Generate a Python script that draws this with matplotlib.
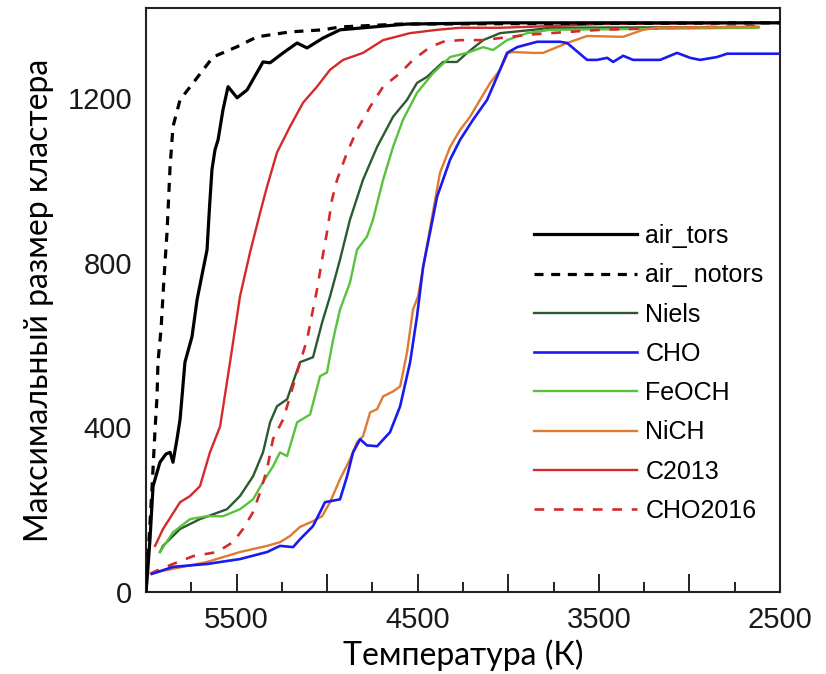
import matplotlib
matplotlib.use("Agg")
import matplotlib.pyplot as plt
from matplotlib.ticker import MultipleLocator, FuncFormatter

plt.rcParams['lines.scale_dashes'] = False

# ---- data (Temperature K, max cluster size) ----
air_tors_T = [6000, 5994, 5978, 5961, 5923, 5890, 5867, 5851, 5829, 5812, 5801, 5785, 5746, 5718,
              5663, 5650, 5636, 5619, 5602, 5575, 5547, 5497, 5442, 5354, 5315, 5243, 5166, 5111,
              5023, 4929, 4746, 4559, 4045, 2500]
air_tors_N = [2, 31, 128, 257, 315, 335, 339, 315, 371, 419, 475, 558, 620, 710,
              831, 930, 1025, 1074, 1098, 1171, 1227, 1200, 1219, 1287, 1285, 1309, 1333, 1321,
              1345, 1365, 1372, 1379, 1382, 1382]

air_notors_T = [6000, 5967, 5950, 5939, 5934, 5917, 5901, 5884, 5867, 5851, 5812, 5740, 5630,
                5497, 5387, 5205, 5023, 4929, 4597, 2500]
air_notors_N = [2, 250, 395, 475, 558, 638, 759, 873, 1033, 1130, 1195, 1236, 1299,
                1324, 1348, 1360, 1365, 1372, 1379, 1382]

niels_T = [5923, 5906, 5812, 5702, 5553, 5481, 5409, 5354, 5315, 5277, 5221, 5150, 5078, 5028,
           4984, 4929, 4874, 4802, 4724, 4636, 4559, 4504, 4448, 4360, 4283, 4227, 4139, 4045,
           3863, 3769, 2620]
niels_N = [97, 112, 153, 177, 201, 233, 281, 339, 412, 451, 468, 558, 570, 654,
           718, 807, 904, 1001, 1081, 1154, 1195, 1236, 1251, 1287, 1287, 1309, 1340, 1357,
           1365, 1370, 1372]

cho_T = [5967, 5851, 5663, 5481, 5332, 5260, 5188, 5150, 5078, 5039, 5012, 4929, 4890, 4857,
         4818, 4780, 4724, 4653, 4597, 4542, 4504, 4470, 4432, 4393, 4321, 4266, 4194, 4117,
         4062, 4007, 3951, 3841, 3714, 3675, 3565, 3510, 3454, 3421, 3366, 3311, 3162, 3068,
         2996, 2941, 2847, 2792, 2500]
cho_N = [44, 61, 68, 80, 97, 112, 109, 128, 160, 194, 218, 225, 281, 339,
         371, 356, 354, 388, 451, 558, 669, 790, 873, 960, 1050, 1098, 1147, 1195,
         1251, 1309, 1323, 1336, 1336, 1333, 1292, 1292, 1297, 1287, 1302, 1292, 1292, 1309,
         1297, 1292, 1299, 1307, 1307]

feoch_T = [5923, 5851, 5757, 5663, 5575, 5481, 5409, 5354, 5299, 5260, 5221, 5166, 5094, 5039,
           5001, 4967, 4929, 4874, 4835, 4780, 4747, 4691, 4636, 4581, 4504, 4415, 4321, 4227,
           4139, 4084, 4007, 3896, 3769, 2620]
feoch_N = [97, 145, 177, 184, 184, 201, 225, 267, 305, 339, 330, 412, 431, 524,
           533, 613, 686, 751, 831, 863, 904, 1001, 1081, 1147, 1212, 1260, 1299, 1309,
           1323, 1316, 1340, 1357, 1365, 1370]

nich_T = [5967, 5663, 5481, 5332, 5260, 5205, 5150, 5078, 5028, 4984, 4929, 4874, 4835, 4802,
          4763, 4724, 4691, 4636, 4597, 4559, 4526, 4498, 4443, 4377, 4321, 4266, 4211, 4156,
          4100, 4045, 4001, 3973, 3863, 3808, 3675, 3565, 3366, 3256, 3178, 2620]
nich_N = [46, 73, 97, 112, 121, 136, 158, 172, 184, 218, 274, 322, 364, 378,
          436, 444, 475, 487, 499, 582, 686, 718, 856, 1018, 1081, 1122, 1154, 1195,
          1236, 1268, 1309, 1311, 1309, 1309, 1333, 1350, 1348, 1365, 1370, 1372]

c2013_T = [5950, 5906, 5812, 5757, 5702, 5647, 5591, 5536, 5481, 5426, 5370, 5332, 5277, 5205,
           5133, 5056, 4984, 4912, 4802, 4691, 4542, 4393, 4266, 4045, 3769, 3493, 2500]
c2013_N = [112, 153, 218, 233, 257, 339, 402, 558, 718, 824, 921, 984, 1067, 1130,
           1188, 1227, 1268, 1292, 1309, 1340, 1357, 1365, 1370, 1370, 1374, 1379, 1382]

cho2016_T = [5978, 5961, 5851, 5740, 5608, 5520, 5464, 5409, 5370, 5332, 5299, 5243, 5221, 5166,
             5111, 5078, 5056, 5028, 5001, 4973, 4945, 4890, 4835, 4763, 4691, 4597, 4526, 4432,
             4360, 4266, 4139, 3896, 3769, 3493, 3123, 2620]
cho2016_N = [44, 48, 68, 87, 97, 121, 153, 194, 242, 298, 371, 419, 451, 533,
             613, 686, 734, 807, 873, 953, 1001, 1067, 1122, 1178, 1227, 1260, 1292, 1323,
             1336, 1340, 1340, 1353, 1357, 1365, 1370, 1374]

x_tick_labels = [5500, 4500, 3500, 2500]
y_tick_values = [0, 400, 800, 1200]

# ---- figure ----
fig = plt.figure(figsize=(8.26, 6.74), dpi=100)
ax = fig.add_axes([146/826, 1-592/674, 634/826, 584/674])

ax.plot(air_tors_T, air_tors_N, color='black', lw=2.3, label='air_tors', zorder=5)
ax.plot(air_notors_T, air_notors_N, color='black', lw=2.3, ls=(0, (6.5, 5.5)), label='air_ notors', zorder=5)
ax.plot(niels_T, niels_N, color='#2b5a2e', lw=1.7, label='Niels')
ax.plot(cho_T, cho_N, color='#1a1aee', lw=1.9, label='CHO', zorder=4)
ax.plot(feoch_T, feoch_N, color='#58c23c', lw=1.7, label='FeOCH')
ax.plot(nich_T, nich_N, color='#df7a32', lw=1.7, label='NiCH', zorder=3)
ax.plot(c2013_T, c2013_N, color='#d42a2a', lw=1.7, label='C2013')
ax.plot(cho2016_T, cho2016_N, color='#d42a2a', lw=1.9, ls=(0, (7, 7)), label='CHO2016')

ax.set_xlim(6000, 2500)
ax.set_ylim(0, 1418)

ax.xaxis.set_major_locator(MultipleLocator(500))
ax.xaxis.set_minor_locator(MultipleLocator(250))
ax.xaxis.set_major_formatter(FuncFormatter(
    lambda v, p: f"{int(round(v))}" if int(round(v)) in x_tick_labels else ""))
ax.set_yticks(y_tick_values)

ax.tick_params(axis='x', which='major', direction='in', length=13, width=1.4, pad=10,
               labelsize=21, colors='#222222', labelcolor='#1a1a1a')
ax.tick_params(axis='x', which='minor', direction='in', length=7, width=1.4, colors='#222222')
ax.tick_params(axis='y', length=0, pad=10, labelsize=21, labelcolor='#1a1a1a')
for lab in ax.get_xticklabels() + ax.get_yticklabels():
    lab.set_fontfamily('Liberation Sans')

for s in ax.spines.values():
    s.set_linewidth(1.5)
    s.set_color('#222222')

ax.set_xlabel('Температура (К)', family='Lato', fontsize=23, labelpad=4)
ax.set_ylabel('Максимальный размер кластера', family='Lato', fontsize=23, labelpad=10)

leg = ax.legend(loc='upper left', bbox_to_anchor=(0.612, 0.630), frameon=False,
                prop=dict(family='Liberation Sans', size=18), handlelength=4.1,
                handletextpad=0.35, labelspacing=0.61, borderpad=0, borderaxespad=0)

fig.savefig('out.png', dpi=100)
